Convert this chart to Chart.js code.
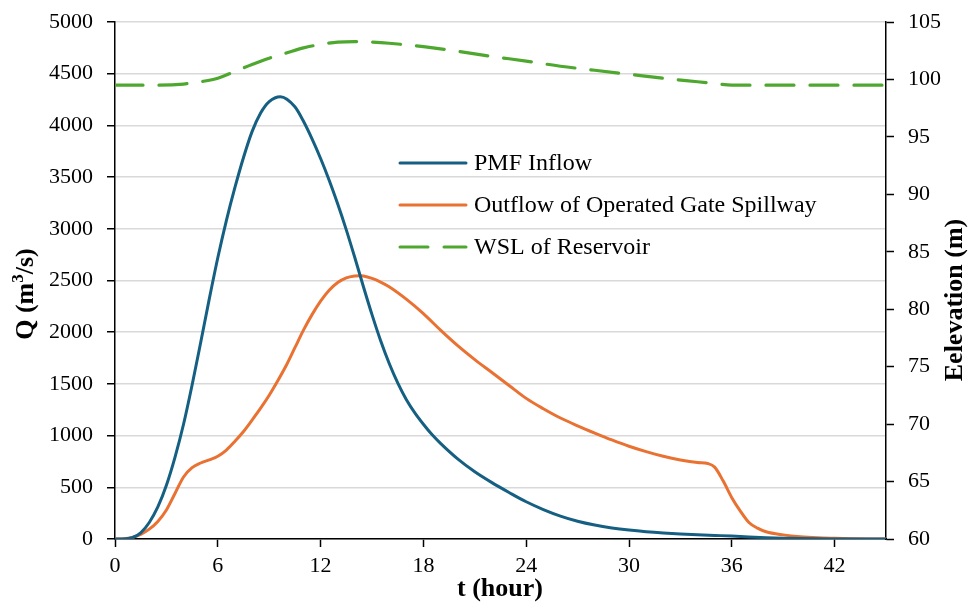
<!DOCTYPE html>
<html>
<head>
<meta charset="utf-8">
<script src="https://cdn.jsdelivr.net/npm/chart.js@4/dist/chart.umd.min.js"></script>
<style>
  body { margin: 0; background: #fff; }
  #wrap { width: 969px; height: 604px; position: relative; }
</style>
</head>
<body>
<div id="wrap"><canvas id="chart"></canvas></div>
<script>
// time (hour) and values for each series
const inflowTime = [0, 0.5, 1, 1.5, 2, 2.5, 3, 3.5, 4, 4.5, 5, 5.5, 6, 6.5, 7, 7.5, 8, 8.5, 9, 9.65, 10.5, 11, 11.5, 12, 12.5, 13, 13.5, 14, 14.5, 15, 15.5, 16, 16.5, 17, 17.5, 18, 18.5, 19, 20, 21, 22, 23, 24, 25, 26, 27, 28, 29, 30, 31, 32, 33, 34, 35, 36, 37, 38, 39, 40, 41, 42, 43, 45];
const inflowQ = [0, 0, 12, 60, 160, 310, 520, 790, 1110, 1490, 1900, 2320, 2720, 3080, 3400, 3690, 3940, 4120, 4230, 4278, 4180, 4040, 3870, 3680, 3470, 3240, 2990, 2720, 2440, 2170, 1920, 1700, 1510, 1350, 1220, 1110, 1010, 925, 775, 650, 545, 450, 360, 285, 222, 172, 135, 107, 86, 70, 58, 49, 42, 35, 28, 20, 13, 8, 4, 2, 1, 0, 0];

const outflowTime = [0, 0.5, 1, 1.5, 2, 2.5, 3, 3.5, 4, 4.5, 5, 5.5, 6, 6.5, 7, 7.5, 8, 8.5, 9, 9.5, 10, 10.5, 11, 11.5, 12, 12.5, 13, 13.5, 14, 14.3, 14.5, 15, 15.5, 16, 17, 18, 19, 20, 21, 22, 23, 24, 25, 26, 27, 28, 29, 30, 31, 32, 33, 34, 34.6, 35, 35.5, 36, 36.5, 37, 37.5, 38, 39, 40, 41, 42, 43, 44, 45];
const outflowQ = [0, 3, 15, 45, 95, 170, 280, 440, 600, 690, 735, 765, 800, 860, 945, 1040, 1150, 1265, 1390, 1530, 1680, 1850, 2020, 2170, 2300, 2405, 2480, 2525, 2543, 2546, 2543, 2520, 2485, 2440, 2320, 2180, 2020, 1870, 1735, 1610, 1485, 1360, 1260, 1170, 1095, 1025, 958, 897, 845, 800, 765, 740, 730, 695, 560, 400, 270, 160, 105, 70, 40, 22, 12, 7, 3, 1, 0];

const wslTime = [0, 2, 4, 5, 6, 7, 8, 9, 10, 11, 12, 13, 14, 15, 16, 18, 20, 22, 24, 26, 28, 30, 32, 34, 35, 36, 40, 45];
const wslElev = [99.5, 99.5, 99.6, 99.8, 100.1, 100.7, 101.3, 101.85, 102.3, 102.75, 103.05, 103.25, 103.3, 103.25, 103.15, 102.85, 102.45, 102.0, 101.6, 101.15, 100.8, 100.45, 100.1, 99.8, 99.65, 99.5, 99.5, 99.5];

const xTicks = [0, 6, 12, 18, 24, 30, 36, 42];
const seriesNames = ['PMF Inflow', 'Outflow of Operated Gate Spillway', 'WSL of Reservoir'];
const seriesColors = ['#156082', '#E97132', '#4EA72E'];

function toPoints(xs, ys) {
    return xs.map(function (x, i) { return { x: x, y: ys[i] }; });
}

const serif = '"Liberation Serif", "Times New Roman", serif';

// legend and axis titles drawn on the canvas
const extras = {
    id: 'extras',
    afterDraw(chart) {
        const ctx = chart.ctx;
        ctx.save();
        ctx.font = '24px ' + serif;
        ctx.fillStyle = '#000';
        ctx.textBaseline = 'middle';
        ctx.lineCap = 'round';
        const rows = [163, 205, 247];
        for (let i = 0; i < 3; i++) {
            ctx.strokeStyle = seriesColors[i];
            ctx.lineWidth = 3;
            ctx.setLineDash(i === 2 ? [28, 16] : []);
            ctx.beginPath();
            ctx.moveTo(400, rows[i]);
            ctx.lineTo(466, rows[i]);
            ctx.stroke();
            ctx.setLineDash([]);
            ctx.fillText(seriesNames[i], 474, rows[i] + 1);
        }

        ctx.font = 'bold 26px ' + serif;
        ctx.textAlign = 'center';
        ctx.fillText('t (hour)', 500, 589);

        // left title with superscript
        ctx.save();
        ctx.translate(26, 294);
        ctx.rotate(-Math.PI / 2);
        ctx.textAlign = 'left';
        const big = 'bold 26px ' + serif;
        const small = 'bold 17px ' + serif;
        ctx.font = big;
        const a = 'Q (m', c = '/s)';
        const wa = ctx.measureText(a).width;
        const wc = ctx.measureText(c).width;
        ctx.font = small;
        const wb = ctx.measureText('3').width;
        let x0 = -(wa + wb + wc) / 2;
        ctx.font = big;
        ctx.fillText(a, x0, 0);
        ctx.font = small;
        ctx.fillText('3', x0 + wa, -7);
        ctx.font = big;
        ctx.fillText(c, x0 + wa + wb, 0);
        ctx.restore();

        ctx.save();
        ctx.translate(955, 300);
        ctx.rotate(-Math.PI / 2);
        ctx.fillText('Eelevation (m)', 0, 0);
        ctx.restore();
        ctx.restore();
    }
};

const tickFont = { family: serif, size: 22 };
function plain(v) { return String(v); }

new Chart(document.getElementById('chart'), {
    type: 'line',
    data: {
        datasets: [{
            label: seriesNames[0],
            data: toPoints(inflowTime, inflowQ),
            borderColor: seriesColors[0],
            borderWidth: 3,
            yAxisID: 'y'
        }, {
            label: seriesNames[1],
            data: toPoints(outflowTime, outflowQ),
            borderColor: seriesColors[1],
            borderWidth: 3,
            yAxisID: 'y'
        }, {
            label: seriesNames[2],
            data: toPoints(wslTime, wslElev),
            borderColor: seriesColors[2],
            borderWidth: 3.2,
            borderDash: [28, 16],
            borderCapStyle: 'round',
            yAxisID: 'y2'
        }]
    },
    options: {
        responsive: true,
        maintainAspectRatio: false,
        animation: false,
        layout: { padding: { top: 22, left: 0, right: 0, bottom: 0 } },
        elements: {
            point: { radius: 0 },
            line: { cubicInterpolationMode: 'monotone' }
        },
        plugins: {
            legend: { display: false },
            tooltip: { enabled: false }
        },
        scales: {
            x: {
                type: 'linear',
                min: 0,
                max: 45,
                afterBuildTicks: function (axis) {
                    axis.ticks = xTicks.map(function (v) { return { value: v }; });
                },
                afterFit: function (scale) {
                    scale.height = 65;
                    scale.paddingLeft = 0;
                    scale.paddingRight = 0;
                },
                border: { color: '#000', width: 1.5 },
                grid: { drawOnChartArea: false, drawTicks: true, tickLength: 8, tickColor: '#000', tickWidth: 1.5 },
                ticks: { font: tickFont, color: '#000', padding: 6, maxRotation: 0, callback: plain }
            },
            y: {
                position: 'left',
                min: 0,
                max: 5000,
                afterFit: function (scale) {
                    scale.width = 115;
                    scale.paddingTop = 0;
                    scale.paddingBottom = 0;
                },
                border: { color: '#000', width: 1.5 },
                grid: { color: '#d9d9d9', lineWidth: 1.5, tickLength: 8, tickColor: '#000', tickWidth: 1.5 },
                ticks: { stepSize: 500, font: tickFont, color: '#000', padding: 14, callback: plain }
            },
            y2: {
                position: 'right',
                min: 60,
                max: 105,
                afterFit: function (scale) {
                    scale.width = 83;
                    scale.paddingTop = 0;
                    scale.paddingBottom = 0;
                },
                border: { color: '#000', width: 1.5 },
                grid: { drawOnChartArea: false, tickLength: 8, tickColor: '#000', tickWidth: 1.5 },
                ticks: { stepSize: 5, font: tickFont, color: '#000', padding: 14, callback: plain }
            }
        }
    },
    plugins: [extras]
});
</script>
</body>
</html>
